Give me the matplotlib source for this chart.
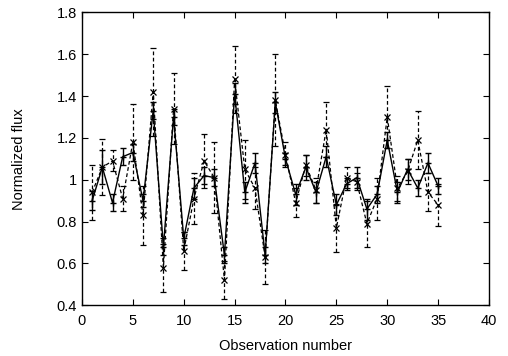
import numpy as np
import matplotlib.pyplot as plt
from matplotlib.ticker import FormatStrFormatter, MultipleLocator

obs = list(range(1, 36))

# solid series (+ markers)
flux_a = [0.90, 1.06, 0.89, 1.11, 1.13, 0.90, 1.33, 0.68, 1.30, 0.72,
          0.96, 1.02, 1.01, 0.64, 1.41, 0.94, 1.08, 0.64, 1.37, 1.10,
          0.93, 1.06, 0.94, 1.11, 0.88, 0.98, 1.01, 0.86, 0.93, 1.19,
          0.94, 1.05, 0.96, 1.08, 0.97]
err_a = [0.045, 0.08, 0.04, 0.04, 0.04, 0.03, 0.04, 0.04, 0.04, 0.03,
         0.05, 0.04, 0.04, 0.04, 0.05, 0.05, 0.05, 0.04, 0.05, 0.03,
         0.05, 0.06, 0.05, 0.05, 0.05, 0.03, 0.05, 0.05, 0.04, 0.04,
         0.05, 0.05, 0.04, 0.05, 0.04]

# dashed series (x markers)
flux_b = [0.94, 1.06, 1.09, 0.91, 1.18, 0.83, 1.42, 0.58, 1.34, 0.66,
          0.91, 1.09, 1.01, 0.52, 1.48, 1.05, 0.96, 0.63, 1.38, 1.12,
          0.89, 1.07, 0.95, 1.24, 0.77, 1.01, 0.99, 0.79, 0.91, 1.30,
          0.96, 1.04, 1.19, 0.94, 0.88]
err_b = [0.13, 0.135, 0.05, 0.06, 0.18, 0.14, 0.21, 0.115, 0.17, 0.09,
         0.12, 0.13, 0.17, 0.09, 0.16, 0.14, 0.10, 0.13, 0.22, 0.06,
         0.07, 0.05, 0.06, 0.13, 0.115, 0.05, 0.04, 0.11, 0.10, 0.15,
         0.06, 0.06, 0.14, 0.09, 0.10]

plt.rcParams['font.family'] = ['Liberation Sans', 'DejaVu Sans']

fig = plt.figure(figsize=(5.08, 3.56), dpi=100)
ax = fig.add_axes([0.1614, 0.1424, 0.8012, 0.823])

eb = ax.errorbar(obs, flux_b, yerr=err_b, fmt='x', ls=(0, (3, 2)),
                 color='k', lw=0.9, ms=4, mew=0.9, capsize=2, elinewidth=0.9)
for c in eb[2]:
    c.set_linestyle((0, (3, 2)))

ax.errorbar(obs, flux_a, yerr=err_a, fmt='+-', color='k', lw=1.0,
            ms=5, mew=1.0, capsize=2, elinewidth=1.0)

ax.set_xlim(0, 40)
ax.set_ylim(0.4, 1.8)
ax.xaxis.set_major_locator(MultipleLocator(5))
ax.yaxis.set_major_locator(MultipleLocator(0.2))
ax.yaxis.set_major_formatter(FormatStrFormatter('%g'))
ax.tick_params(direction='in', top=True, right=True, length=4, labelsize=10.5)
ax.tick_params(axis='x', pad=6)
for s in ax.spines.values():
    s.set_linewidth(1.0)

ax.set_xlabel('Observation number', fontsize=10.5, labelpad=8)
ax.set_ylabel('Normalized flux', fontsize=10.5, labelpad=22)

fig.savefig('out.png', dpi=100)
